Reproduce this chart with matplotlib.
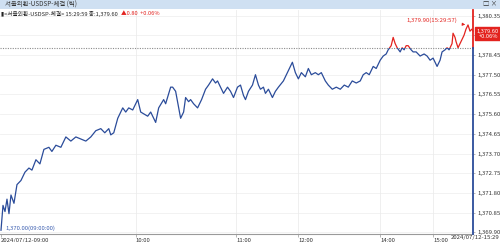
import numpy as np
import matplotlib
matplotlib.use("Agg")
import matplotlib.pyplot as plt
from matplotlib.patches import Rectangle
import matplotlib.transforms as mtransforms

plt.rcParams['font.family'] = ['Noto Sans CJK KR', 'DejaVu Sans']

# ---------------- data ----------------
tick_index = [0, 2, 4, 6, 8, 10, 13, 16, 20, 24, 28, 31, 35, 39, 43, 48, 51, 55, 60, 65,
              70, 75, 80, 85, 90, 95, 100, 104, 108, 110, 113, 117, 122, 125, 128, 132,
              137, 140, 147, 150, 155, 158, 163, 165, 170, 172, 175, 180, 183, 185, 188,
              190, 193, 197, 201, 205, 208, 212, 215, 217, 220, 223, 227, 230, 233, 237,
              240, 243, 245, 248, 252, 255, 258, 260, 263, 265, 268, 272, 275, 278, 283,
              287, 290, 292, 295, 298, 301, 305, 308, 311, 315, 318, 321, 325, 328, 332,
              336, 340, 344, 348, 352, 356, 360, 363, 366, 369, 373, 376, 380, 383, 386,
              388, 391, 393, 395, 397, 400, 402, 404, 406, 408, 411, 413, 416, 420, 424,
              427, 430, 433, 437, 440, 442, 445, 447, 449, 452, 453, 455, 456, 458, 460,
              462, 464, 466, 468, 470, 472, 473]
price = [1370.0, 1371.2, 1370.9, 1371.5, 1370.8, 1371.7, 1371.3, 1372.2, 1372.4, 1372.8,
         1373.0, 1372.9, 1373.4, 1373.2, 1373.9, 1374.0, 1373.8, 1374.1, 1374.0, 1374.5,
         1374.3, 1374.5, 1374.4, 1374.3, 1374.5, 1374.8, 1374.9, 1374.7, 1374.9, 1374.6,
         1374.7, 1375.4, 1375.9, 1375.7, 1375.9, 1375.8, 1376.3, 1375.7, 1375.5, 1375.7,
         1375.2, 1375.9, 1376.3, 1376.1, 1376.9, 1376.9, 1376.7, 1375.4, 1375.7, 1376.4,
         1376.2, 1376.3, 1376.1, 1375.9, 1376.3, 1376.8, 1377.0, 1377.3, 1377.1, 1377.2,
         1376.9, 1376.6, 1376.9, 1376.7, 1376.4, 1376.9, 1377.0, 1376.5, 1376.3, 1376.7,
         1377.0, 1377.5, 1377.0, 1376.8, 1376.9, 1376.6, 1376.8, 1376.4, 1376.7, 1376.9,
         1377.2, 1377.6, 1377.9, 1378.1, 1377.6, 1377.3, 1377.6, 1377.4, 1377.8, 1377.5,
         1377.6, 1377.5, 1377.6, 1377.2, 1377.0, 1376.8, 1376.9, 1376.8, 1377.0, 1376.9,
         1377.2, 1377.1, 1377.2, 1377.5, 1377.6, 1377.5, 1377.9, 1377.8, 1378.2, 1378.4,
         1378.5, 1378.7, 1378.9, 1379.3, 1379.0, 1378.8, 1378.6, 1378.8, 1378.7, 1378.9,
         1378.9, 1378.7, 1378.6, 1378.6, 1378.4, 1378.5, 1378.4, 1378.2, 1378.3, 1377.9,
         1378.2, 1378.6, 1378.7, 1378.8, 1378.7, 1379.0, 1379.5, 1379.3, 1379.1, 1378.8,
         1379.0, 1379.2, 1379.4, 1379.7, 1379.9, 1379.6, 1379.7, 1379.6]

prev_close = 1378.80
last_price = 1379.60
high_price = 1379.90
high_time = "15:29:57"
low_price = 1370.00
low_time = "09:00:00"
total_ticks = 473

ytick_values = [1369.90, 1370.85, 1371.80, 1372.75, 1373.70, 1374.65, 1375.60,
                1376.55, 1377.50, 1378.45, 1379.40, 1380.35]
hidden_ytick = 1379.40   # covered by the current-price box in the reference
xtick_index = [0, 135, 236, 298, 380, 433]
xtick_labels = ['2024/07/12-09:00', '10:00', '11:00', '12:00', '14:00', '15:00']
end_label = '2024/07/12-15:29'

title = '서울외환-USDSP-체결 (틱)'
info_text = '▮<서울외환-USDSP-체결> 15:29:59 종:1,379.60'
info_change = '▲0.80  +0.06%'
price_box = '1,379.60\n+0.06%'

BLUE = '#2b4c9a'
RED = '#e3231f'

# ---------------- figure ----------------
W, H = 500, 242
fig = plt.figure(figsize=(W / 100, H / 100), dpi=100)
fig.patch.set_facecolor('white')

ax = fig.add_axes([0.0, 1 - 234 / H, 473 / W, 224 / H])
ymin, ymax = 1369.82, 1380.62
ax.set_xlim(-1, total_ticks)
ax.set_ylim(ymin, ymax)

x = np.array(tick_index)
y = np.array(price)
lb, = ax.plot(x, y, color=BLUE, lw=0.9, zorder=3)
lr, = ax.plot(x, y, color=RED, lw=0.9, zorder=3)
lb.set_clip_path(Rectangle((-10, ymin - 5), total_ticks + 20, prev_close - ymin + 5,
                           transform=ax.transData))
lr.set_clip_path(Rectangle((-10, prev_close), total_ticks + 20, ymax - prev_close + 5,
                           transform=ax.transData))

ax.axhline(prev_close, color='#8c8c8c', lw=0.8, ls=(0, (1, 1.2)), zorder=2)

# grid
for v in ytick_values:
    ax.axhline(v, color='#f0f0f0', lw=0.6, zorder=1)
for t in xtick_index[1:]:
    ax.axvline(t, color='#ececec', lw=0.6, zorder=1)

# spines
for s in ['left', 'top', 'right']:
    ax.spines[s].set_visible(False)
ax.spines['bottom'].set_color('#9a9a9a')
ax.spines['bottom'].set_linewidth(0.8)
frac = (prev_close - ymin) / (ymax - ymin)
ax.axvline(total_ticks, ymin=frac, ymax=1, color=RED, lw=1.3, clip_on=False, zorder=4)
ax.axvline(total_ticks, ymin=0, ymax=frac, color=BLUE, lw=1.3, clip_on=False, zorder=4)

ax.yaxis.tick_right()
ax.set_yticks(ytick_values)
ax.set_yticklabels(['' if abs(v - hidden_ytick) < 1e-6 else f'{v:,.2f}' for v in ytick_values])
ax.set_xticks(xtick_index)
ax.set_xticklabels(xtick_labels)
for lab in ax.get_xticklabels():
    lab.set_horizontalalignment('left')
ax.tick_params(axis='both', labelsize=4.3, length=2, width=0.5, color='#999999',
               labelcolor='#333333', pad=1)
ax.tick_params(axis='y', length=1.5, pad=2)
fig.text(1.0, 1 - 237 / H, end_label, ha='right', va='center', fontsize=4.3, color='#333333')

# high / low annotations
ax.annotate(f'{high_price:,.2f}({high_time})', xy=(tick_index[price.index(high_price)], high_price),
            xytext=(-8, 3), textcoords='offset points', ha='right', va='center',
            fontsize=4.3, color=RED,
            arrowprops=dict(arrowstyle='-|>', color=RED, lw=0.6, mutation_scale=4))
ax.annotate(f'{low_price:,.2f}({low_time})', xy=(tick_index[price.index(low_price)], low_price),
            xytext=(3, 1.5), textcoords='offset points', ha='left', va='center',
            fontsize=4.3, color='#3a5db0')

# price box on right
trans = mtransforms.blended_transform_factory(fig.transFigure, ax.transData)
fig.text(0.997, last_price - 0.12, price_box, transform=trans, ha='right', va='center',
         fontsize=4.1, color='white', linespacing=1.0,
         bbox=dict(boxstyle='square,pad=0.25', fc=RED, ec=RED), zorder=10)

# title bar
fig.patches.append(Rectangle((0, 1 - 9 / H), 1, 9 / H, transform=fig.transFigure,
                             facecolor='#cfe0f2', edgecolor='none', zorder=0))
fig.text(5 / W, 1 - 4.5 / H, title, ha='left', va='center', fontsize=4.6, color='#333333')
fig.text(497 / W, 1 - 4.5 / H, '□ ×', ha='right', va='center', fontsize=4.6, color='#333333')

# info line
t1 = fig.text(1 / W, 1 - 13.5 / H, info_text, ha='left', va='center', fontsize=4.1,
              color='#222222')
fig.canvas.draw()
bb = t1.get_window_extent(renderer=fig.canvas.get_renderer())
x_end = fig.transFigure.inverted().transform((bb.x1, bb.y0))[0]
fig.text(x_end + 3 / W, 1 - 13.5 / H, info_change, ha='left', va='center', fontsize=4.1,
         color=RED)

fig.savefig('out.png', dpi=100)
